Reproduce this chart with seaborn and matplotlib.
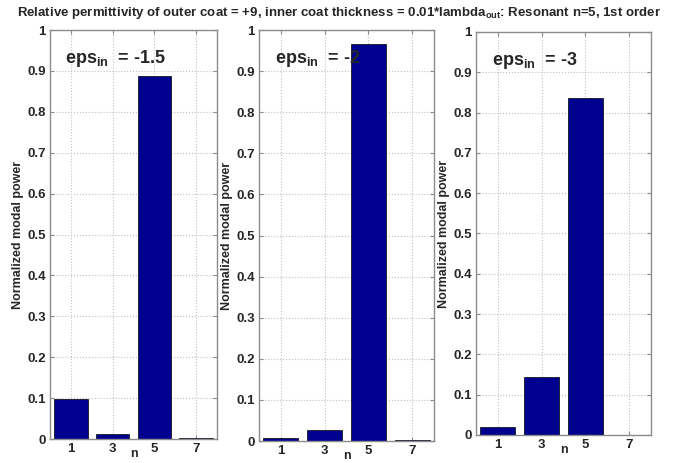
import numpy as np
import pandas as pd
import matplotlib
matplotlib.use('Agg')
import matplotlib.pyplot as plt
import seaborn as sns

# data
n_values = [1, 3, 5, 7]
power_eps_1p5 = [0.098, 0.012, 0.888, 0.002]
power_eps_2 = [0.007, 0.026, 0.967, 0.002]
power_eps_3 = [0.020, 0.145, 0.835, 0.001]
panel_labels = ['-1.5', '-2', '-3']
y_ticks = [0, 0.1, 0.2, 0.3, 0.4, 0.5, 0.6, 0.7, 0.8, 0.9, 1]
y_tick_labels = ['0', '0.1', '0.2', '0.3', '0.4', '0.5', '0.6', '0.7', '0.8', '0.9', '1']

sns.set_style('white')
plt.rcParams['font.family'] = ['Liberation Sans', 'DejaVu Sans']
plt.rcParams['font.weight'] = 'bold'
plt.rcParams['mathtext.fontset'] = 'custom'
plt.rcParams['mathtext.bf'] = 'Liberation Sans:bold'
plt.rcParams['mathtext.rm'] = 'Liberation Sans:bold'

BAR_COLOR = '#00008F'
AX_COLOR = '#8c8c8c'

fig = plt.figure(figsize=(6.78, 4.63), dpi=100)
positions = [
    [0.0737, 0.0518, 0.2463, 0.8834],
    [0.3820, 0.0475, 0.2581, 0.8877],
    [0.7021, 0.0605, 0.2581, 0.8704],
]
series = [power_eps_1p5, power_eps_2, power_eps_3]

for pos, vals, lab in zip(positions, series, panel_labels):
    ax = fig.add_axes(pos)
    df = pd.DataFrame({'n': n_values, 'power': vals})
    sns.barplot(data=df, x='n', y='power', native_scale=True, width=0.8,
                color=BAR_COLOR, saturation=1, edgecolor='black',
                linewidth=0.5, ax=ax)
    ax.set_xlim(0, 8)
    ax.set_ylim(0, 1)
    ax.set_xticks(n_values)
    ax.set_xticklabels([str(v) for v in n_values], fontsize=9.5, fontweight='bold')
    ax.set_yticks(y_ticks)
    ax.set_yticklabels(y_tick_labels, fontsize=9.5, fontweight='bold')
    ax.set_axisbelow(True)
    ax.grid(True, linestyle=':', color='#c0c0c0', linewidth=0.8)
    for sp in ax.spines.values():
        sp.set_visible(True)
        sp.set_color(AX_COLOR)
        sp.set_linewidth(1.0)
    ax.tick_params(direction='in', length=3, color=AX_COLOR, pad=3,
                   top=True, right=True, bottom=True, left=True,
                   labeltop=False, labelright=False)
    ax.set_xlabel('n', fontsize=9, fontweight='bold', labelpad=-5)
    ax.set_ylabel('Normalized modal power', fontsize=9, fontweight='bold', labelpad=2)
    ax.text(0.09, 0.955, r'eps$_{\mathbf{in}}$  = ' + lab, transform=ax.transAxes,
            fontsize=13, fontweight='bold', va='top', ha='left')

fig.text(0.5, 0.99,
         r'Relative permittivity of outer coat = +9, inner coat thickness = 0.01*lambda$_{\mathbf{out}}$: Resonant n=5, 1st order',
         ha='center', va='top', fontsize=9.5, fontweight='bold')

fig.savefig('out.png', dpi=100)
